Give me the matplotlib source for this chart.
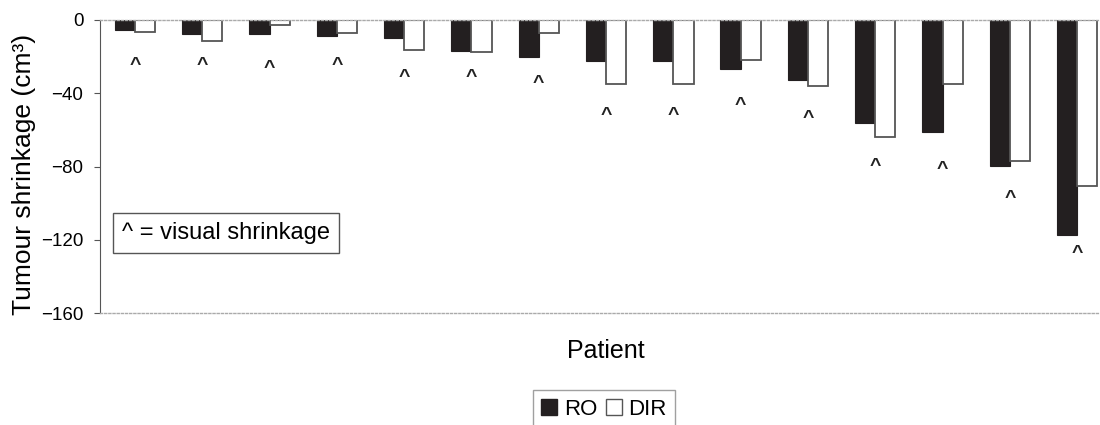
import numpy as np
import matplotlib
matplotlib.use("Agg")
import matplotlib.pyplot as plt
from matplotlib.patches import Patch

plt.rcParams['font.family'] = ['Liberation Sans', 'DejaVu Sans']

# tumour shrinkage per patient (cm3)
patients = list(range(1, 16))
ro = [-5.5, -7.8, -7.8, -8.7, -10.0, -16.7, -20.0, -22.4, -22.4, -26.9,
      -32.8, -56.1, -61.2, -79.7, -117.6]
dir_ = [-6.4, -11.5, -2.7, -7.1, -16.6, -17.3, -6.9, -35.1, -35.1, -21.7,
        -36.2, -63.7, -35.1, -77.2, -90.7]
# where the "^" (visual shrinkage) marks sit, top of the glyph
caret_y = [-20.8, -20.8, -22.4, -20.8, -27.3, -27.3, -30.6, -48.4, -48.4,
           -42.6, -50.1, -76.1, -77.7, -93.8, -123.4]
yticks = [0, -40, -80, -120, -160]

black = '#231f20'
edge = '#555555'

fig = plt.figure(figsize=(11, 4.25), dpi=100)
ax = fig.add_axes([100/1100, 1 - 313/425, 1000/1100, 293/425])

x = np.arange(len(patients))
w = 0.3
ax.bar(x - w/2, ro, w, color=black, edgecolor=black, linewidth=0.8, label='RO')
ax.bar(x + w/2, dir_, w, color='white', edgecolor=edge, linewidth=1.3, label='DIR')

for xi, cy in zip(x, caret_y):
    ax.text(xi, cy + 0.8, '^', ha='center', va='top', fontsize=14,
            fontweight='bold', color='#222222')

ax.set_xlim(-0.52, 14.34)
ax.set_ylim(-160, 0)
ax.set_yticks(yticks)
ax.set_yticklabels(['0' if t == 0 else '\u2212' + str(-t) for t in yticks])
ax.set_xticks([])
ax.tick_params(axis='y', labelsize=13.5, length=4, color='#555555', pad=8)

ax.spines['right'].set_visible(False)
ax.spines['left'].set_color('#555555')
for s in ['top', 'bottom']:
    ax.spines[s].set_color('#aaaaaa')
    ax.spines[s].set_linestyle((0, (1.5, 1.5)))
    ax.spines[s].set_linewidth(1.0)

ax.set_ylabel('Tumour shrinkage (cm\u00b3)', fontsize=19)
ax.yaxis.set_label_coords(-0.064, 0.474)
ax.set_xlabel('Patient', fontsize=18)
ax.xaxis.set_label_coords(0.506, -0.09)

ax.text(0.022, 0.273, '^ = visual shrinkage', transform=ax.transAxes,
        ha='left', va='center', fontsize=17,
        bbox=dict(boxstyle='square,pad=0.38', facecolor='white',
                  edgecolor='#555555', linewidth=1.0))

handles = [Patch(facecolor=black, edgecolor=black, label='RO'),
           Patch(facecolor='white', edgecolor=edge, label='DIR')]
fig.legend(handles=handles, loc='upper center', ncol=2,
           bbox_to_anchor=(604/1100, 1 - 390/425), fontsize=16,
           frameon=True, fancybox=False, edgecolor='#888888',
           handlelength=0.7, handleheight=0.7, handletextpad=0.3,
           columnspacing=0.4, borderpad=0.4, borderaxespad=0)

fig.savefig('out.png', dpi=100)
